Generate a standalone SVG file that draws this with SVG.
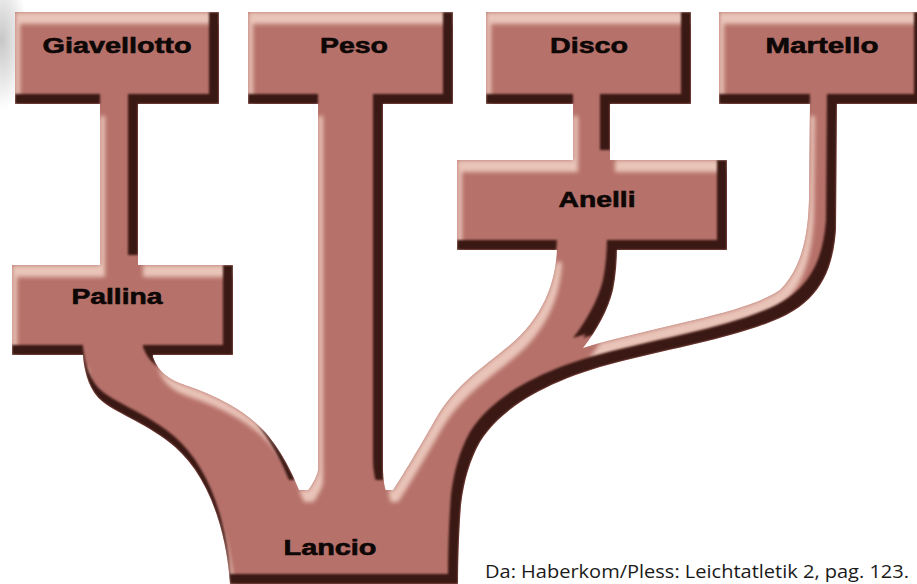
<svg xmlns="http://www.w3.org/2000/svg" width="917" height="584" viewBox="0 0 917 584">
  <defs>
    <filter id="bevel" filterUnits="userSpaceOnUse" x="-20" y="-20" width="970" height="640" color-interpolation-filters="sRGB">
      <feOffset in="SourceAlpha" dx="-10" dy="-10" result="a1"/>
      <feOffset in="SourceAlpha" dx="0" dy="-10" result="a2"/>
      <feComposite in="a1" in2="a2" operator="in" result="a12"/>
      <feComposite in="SourceAlpha" in2="a12" operator="out" result="darkRaw"/>
      <feGaussianBlur in="darkRaw" stdDeviation="1" result="darkBlur"/>
      <feComposite in="darkBlur" in2="SourceAlpha" operator="in" result="darkMask"/>
      <feFlood flood-color="#3a1813" result="darkCol"/>
      <feComposite in="darkCol" in2="darkMask" operator="in" result="dark"/>
      <feOffset in="SourceAlpha" dx="5" dy="12" result="b1"/>
      <feComposite in="SourceAlpha" in2="b1" operator="out" result="lightRaw"/>
      <feGaussianBlur in="lightRaw" stdDeviation="2.2" result="lightBlur"/>
      <feComposite in="lightBlur" in2="SourceAlpha" operator="in" result="lightMask"/>
      <feFlood flood-color="#f2d2c6" flood-opacity="0.85" result="lightCol"/>
      <feComposite in="lightCol" in2="lightMask" operator="in" result="light"/>
      <feMerge>
        <feMergeNode in="SourceGraphic"/>
        <feMergeNode in="light"/>
        <feMergeNode in="dark"/>
      </feMerge>
    </filter>
    <radialGradient id="smudge" cx="0.5" cy="0.5" r="0.5">
      <stop offset="0" stop-color="#9a9a9a" stop-opacity="0.55"/>
      <stop offset="1" stop-color="#9a9a9a" stop-opacity="0"/>
    </radialGradient>
    <style>
      .shape { fill: #b6716a; }
      .label { font-family: "Liberation Sans", Arial, sans-serif; font-weight: bold; font-size: 22px; fill: #0d0706; stroke: #0d0706; stroke-width: 0.6px; text-anchor: middle; }
      .caption { font-family: "Open Sans", "Noto Sans", "Liberation Sans", sans-serif; font-size: 18px; fill: #1a1a1a; }
    </style>
  </defs>

  <rect width="917" height="584" fill="#ffffff"/>
  <ellipse cx="2" cy="40" rx="26" ry="70" fill="url(#smudge)"/>

  <g id="tree" filter="url(#bevel)">
    <g id="connectors" class="shape">
      <rect id="edge-giavellotto-pallina" x="100" y="100" width="38" height="170"/>
      <rect id="edge-disco-anelli" x="573" y="100" width="37" height="65"/>
      <rect id="edge-peso-lancio" x="318" y="100" width="65" height="380"/>
      <path id="edge-branches" d="M 83 350 L 83 357 C 85 375 90 392 103 402 C 118 414 150 425 175 447 C 195 465 210 490 220 525 C 227 550 229 570 230 584 L 458 584 C 458 560 459 530 461 505 C 464 480 470 460 480 442 C 500 410 540 385 600 367 C 660 350 730 340 780 318 C 820 300 833 270 836 230 L 837 100 L 810 100 L 809 200 C 808 240 800 270 780 290 C 750 310 690 320 640 333 C 615 339 595 344 583 348 C 597 330 608 310 613 290 C 616 275 617 260 617 245 L 557 245 C 557 285 540 320 510 345 C 480 370 455 385 435 420 C 415 455 400 480 388 498 C 385 490 383 480 383 470 L 318 470 C 318 475 310 490 302 497 C 295 480 285 455 265 432 C 245 410 215 395 185 385 C 170 380 158 372 153 357 L 153 350 Z"/>
    </g>
    <g id="node-giavellotto" class="shape"><rect x="15" y="12" width="204" height="92"/></g>
    <g id="node-peso" class="shape"><rect x="248" y="12" width="205" height="92"/></g>
    <g id="node-disco" class="shape"><rect x="486" y="12" width="205" height="92"/></g>
    <g id="node-martello" class="shape"><rect x="719" y="12" width="205" height="92"/></g>
    <g id="node-anelli" class="shape"><rect x="457" y="160" width="270" height="90"/></g>
    <g id="node-pallina" class="shape"><rect x="12" y="265" width="221" height="90"/></g>
    <g id="node-lancio" class="shape"><rect x="232" y="490" width="224" height="94"/></g>
  </g>

  <g id="labels" class="label">
    <text id="label-giavellotto" x="117" y="53" textLength="149" lengthAdjust="spacingAndGlyphs">Giavellotto</text>
    <text id="label-peso" x="354" y="53" textLength="68" lengthAdjust="spacingAndGlyphs">Peso</text>
    <text id="label-disco" x="589" y="53" textLength="78" lengthAdjust="spacingAndGlyphs">Disco</text>
    <text id="label-martello" x="822" y="53" textLength="113" lengthAdjust="spacingAndGlyphs">Martello</text>
    <text id="label-anelli" x="597" y="207" textLength="77" lengthAdjust="spacingAndGlyphs">Anelli</text>
    <text id="label-pallina" x="117" y="304" textLength="91" lengthAdjust="spacingAndGlyphs">Pallina</text>
    <text id="label-lancio" x="330" y="555" textLength="93" lengthAdjust="spacingAndGlyphs">Lancio</text>
  </g>

  <text id="caption" class="caption" x="485" y="578" textLength="424" lengthAdjust="spacingAndGlyphs">Da: Haberkom/Pless: Leichtatletik 2, pag. 123.</text>
</svg>
